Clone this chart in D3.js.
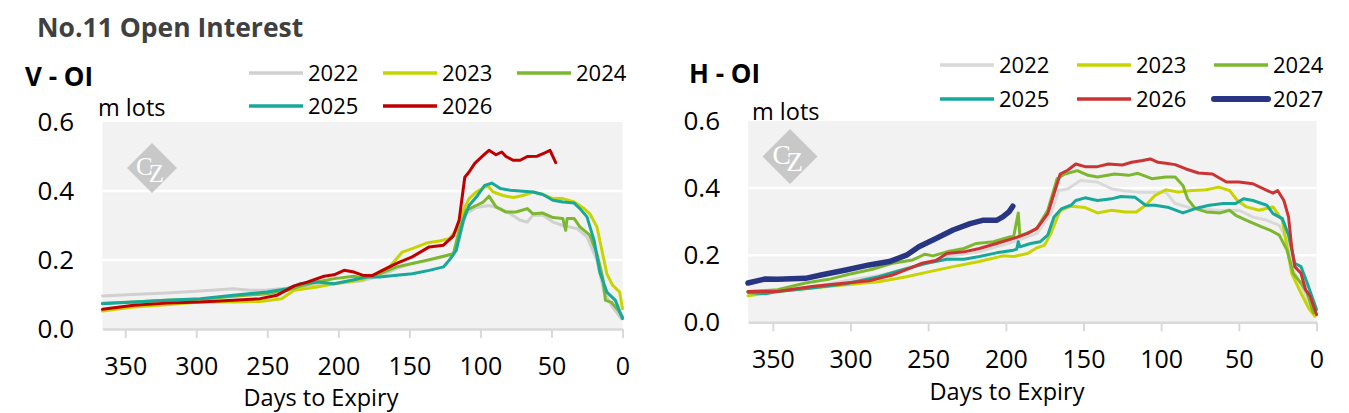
<!DOCTYPE html>
<html>
<head>
<meta charset="utf-8">
<script src="https://cdn.jsdelivr.net/npm/d3@7"></script>
<style>
  body { margin: 0; background: #fff; }
  svg { display: block; font-family: "Open Sans", "Noto Sans", sans-serif; }
</style>
</head>
<body>
<script>
// ---- data ----
const years = ["2022", "2023", "2024", "2025", "2026", "2027"];
const xTicks = [350, 300, 250, 200, 150, 100, 50, 0];
const yTicks = [0, 0.2, 0.4, 0.6];

// V contract, [days to expiry, m lots]
const v2022 = [[366,0.096],[345,0.1],[321,0.104],[297,0.11],[274,0.117],[262,0.112],[250,0.113],[227,0.122],[203,0.131],[183,0.14],[170,0.155],[159,0.175],[148,0.19],[136,0.199],[126,0.21],[119,0.218],[115,0.267],[110,0.334],[103,0.352],[94,0.358],[86,0.349],[79,0.334],[72,0.315],[67,0.31],[63,0.33],[56,0.33],[49,0.31],[42,0.3],[32,0.291],[25,0.267],[18,0.199],[13,0.107],[7,0.064],[1,0.03]];
const v2023 = [[366,0.052],[344,0.064],[321,0.07],[297,0.078],[274,0.078],[255,0.08],[240,0.088],[231,0.112],[215,0.122],[203,0.131],[183,0.143],[171,0.165],[164,0.18],[155,0.223],[148,0.233],[138,0.249],[129,0.255],[122,0.262],[117,0.286],[112,0.344],[108,0.378],[103,0.397],[95,0.416],[91,0.397],[84,0.387],[77,0.381],[70,0.387],[63,0.397],[56,0.39],[49,0.378],[42,0.378],[34,0.368],[27,0.349],[23,0.334],[18,0.296],[14,0.218],[11,0.16],[7,0.127],[2,0.107],[0,0.059]];
const v2024 = [[366,0.075],[344,0.078],[321,0.083],[297,0.086],[274,0.095],[250,0.102],[236,0.112],[227,0.124],[215,0.136],[203,0.146],[189,0.153],[183,0.148],[171,0.16],[159,0.18],[148,0.19],[136,0.201],[126,0.211],[119,0.218],[115,0.286],[110,0.344],[103,0.358],[98,0.368],[94,0.385],[89,0.354],[82,0.339],[75,0.339],[67,0.349],[63,0.334],[56,0.336],[49,0.323],[42,0.32],[40,0.286],[39,0.32],[34,0.32],[30,0.296],[23,0.272],[18,0.218],[14,0.151],[12,0.083],[8,0.078],[3,0.054],[0,0.035]];
const v2025 = [[366,0.073],[344,0.078],[321,0.083],[297,0.088],[274,0.098],[250,0.107],[236,0.117],[227,0.131],[215,0.136],[203,0.131],[189,0.143],[180,0.151],[171,0.151],[159,0.156],[148,0.16],[136,0.17],[126,0.18],[122,0.199],[117,0.228],[112,0.315],[108,0.358],[102,0.387],[97,0.416],[92,0.423],[86,0.407],[79,0.402],[70,0.399],[63,0.397],[56,0.39],[49,0.373],[42,0.368],[34,0.365],[30,0.349],[25,0.325],[20,0.257],[16,0.165],[11,0.107],[5,0.083],[0,0.03]];
const v2026 = [[366,0.057],[344,0.069],[321,0.075],[297,0.078],[274,0.083],[255,0.088],[243,0.098],[231,0.125],[222,0.136],[210,0.153],[203,0.157],[196,0.17],[189,0.165],[183,0.156],[176,0.155],[169,0.17],[159,0.19],[148,0.209],[136,0.238],[126,0.243],[119,0.27],[115,0.315],[111,0.44],[108,0.455],[104,0.48],[98,0.503],[94,0.518],[89,0.505],[85,0.513],[82,0.5],[77,0.489],[72,0.489],[67,0.5],[60,0.501],[56,0.508],[51,0.518],[47,0.482]];

// H contract
const h2022 = [[366,0.092],[347,0.095],[325,0.105],[303,0.124],[281,0.14],[260,0.166],[238,0.196],[217,0.21],[195,0.24],[180,0.265],[171,0.324],[166,0.393],[160,0.398],[152,0.423],[141,0.418],[132,0.398],[123,0.391],[115,0.388],[106,0.388],[97,0.388],[91,0.354],[82,0.342],[71,0.336],[62,0.333],[50,0.334],[41,0.314],[32,0.304],[24,0.289],[19,0.245],[15,0.156],[8,0.09],[2,0.03]];
const h2023 = [[366,0.079],[347,0.092],[325,0.102],[303,0.112],[282,0.121],[264,0.136],[249,0.151],[234,0.166],[217,0.181],[202,0.198],[195,0.196],[186,0.205],[180,0.222],[175,0.23],[171,0.265],[165,0.334],[158,0.346],[149,0.342],[141,0.326],[132,0.334],[123,0.329],[116,0.329],[110,0.349],[104,0.378],[97,0.395],[89,0.388],[80,0.393],[71,0.395],[63,0.403],[56,0.393],[51,0.363],[45,0.344],[37,0.334],[28,0.344],[22,0.304],[19,0.225],[16,0.146],[10,0.087],[5,0.042],[1,0.018]];
const h2024 = [[366,0.092],[347,0.097],[329,0.117],[314,0.128],[301,0.143],[286,0.158],[273,0.176],[260,0.186],[252,0.203],[247,0.198],[238,0.21],[227,0.22],[219,0.235],[208,0.24],[197,0.255],[195,0.255],[192,0.326],[191,0.257],[184,0.27],[180,0.28],[173,0.334],[167,0.428],[162,0.442],[154,0.452],[147,0.438],[141,0.433],[130,0.442],[121,0.438],[115,0.444],[106,0.428],[97,0.433],[91,0.433],[86,0.408],[83,0.368],[78,0.339],[71,0.329],[62,0.326],[56,0.334],[52,0.319],[45,0.304],[36,0.286],[30,0.275],[24,0.26],[19,0.215],[15,0.146],[10,0.117],[6,0.087],[2,0.028]];
const h2025 = [[366,0.089],[355,0.085],[347,0.092],[325,0.102],[303,0.115],[282,0.136],[267,0.156],[251,0.176],[238,0.188],[227,0.188],[217,0.196],[206,0.207],[195,0.215],[193,0.218],[192,0.24],[191,0.225],[184,0.235],[178,0.24],[173,0.26],[169,0.314],[164,0.339],[158,0.349],[155,0.363],[149,0.371],[141,0.363],[132,0.368],[126,0.375],[117,0.373],[110,0.349],[104,0.349],[95,0.342],[86,0.326],[78,0.339],[69,0.349],[60,0.354],[52,0.354],[47,0.368],[41,0.363],[32,0.349],[28,0.324],[22,0.309],[18,0.26],[14,0.176],[10,0.166],[6,0.117],[0,0.038]];
const h2026 = [[366,0.092],[347,0.092],[325,0.107],[303,0.117],[288,0.124],[273,0.141],[262,0.161],[254,0.176],[245,0.184],[238,0.205],[227,0.21],[217,0.22],[206,0.235],[195,0.25],[186,0.265],[180,0.28],[173,0.324],[169,0.383],[165,0.442],[160,0.454],[155,0.472],[149,0.464],[141,0.464],[134,0.472],[125,0.469],[119,0.477],[112,0.482],[107,0.487],[102,0.477],[97,0.474],[91,0.47],[84,0.457],[76,0.445],[67,0.442],[58,0.418],[50,0.418],[41,0.413],[32,0.393],[28,0.385],[25,0.393],[21,0.363],[18,0.314],[16,0.225],[14,0.166],[10,0.146],[7,0.097],[4,0.077],[0,0.023]];
const h2027 = [[366,0.117],[355,0.129],[347,0.128],[329,0.131],[319,0.141],[303,0.156],[288,0.171],[275,0.181],[264,0.2],[256,0.225],[245,0.25],[234,0.275],[223,0.294],[215,0.304],[206,0.304],[202,0.314],[198,0.329],[195.5,0.346]];

const W = 1349, H = 413;
const svg = d3.select("body").append("svg").attr("width", W).attr("height", H);
svg.append("rect").attr("width", W).attr("height", H).attr("fill", "#fff");

svg.append("text")
  .attr("x", 37).attr("y", 37)
  .attr("font-size", 26.5).attr("font-weight", 700).attr("fill", "#404040")
  .text("No.11 Open Interest");

function panel(p) {
  const x = d3.scaleLinear().domain([366, 0]).range([p.x0, p.x1]);
  const y = d3.scaleLinear().domain([0, 0.6]).range([p.y1, p.y0]);
  const g = svg.append("g");

  g.append("rect")
    .attr("x", p.x0).attr("y", p.y0)
    .attr("width", p.x1 - p.x0).attr("height", p.y1 - p.y0)
    .attr("fill", "#f2f2f2");

  g.selectAll(".grid").data(yTicks.filter(d => d > 0 && d < 0.6)).enter()
    .append("line")
      .attr("x1", p.x0).attr("x2", p.x1)
      .attr("y1", d => y(d)).attr("y2", d => y(d))
      .attr("stroke", "#fff").attr("stroke-width", 2.5);

  // CZ logo: one text, per-letter shifts
  const lg = g.append("g").attr("transform", `translate(${p.logo[0]},${p.logo[1]}) scale(${p.logo[2]})`);
  lg.append("path").attr("d", "M0,-25L25,0L0,25L-25,0Z").attr("fill", "#c8c8c8");
  lg.append("text").attr("x", -16).attr("y", 7).attr("dx", "0 -4").attr("dy", "0 6.5")
    .attr("fill", "#fff").attr("font-size", 25)
    .attr("font-family", "Liberation Serif, DejaVu Serif, serif")
    .text("CZ");

  // x axis
  const xa = g.append("g").attr("transform", `translate(0,${p.y1})`)
    .call(d3.axisBottom(x).tickValues(xTicks).tickSize(9).tickSizeOuter(0).tickPadding(19).tickFormat(d3.format("d")));
  xa.select(".domain").attr("stroke", "#d9d9d9").attr("stroke-width", 2.5);
  xa.selectAll(".tick line").attr("stroke", "#d9d9d9").attr("stroke-width", 2);
  xa.selectAll(".tick text").attr("font-size", 25).attr("fill", "#000")
    .attr("font-family", "Open Sans, sans-serif");

  // y axis labels
  const ya = g.append("g").attr("transform", `translate(${p.yLabelX},0)`)
    .call(d3.axisLeft(y).tickValues(yTicks).tickSize(0).tickPadding(0).tickFormat(d3.format(".1f")));
  ya.select(".domain").remove();
  ya.selectAll(".tick text").attr("font-size", 26).attr("fill", "#000")
    .attr("font-family", "Open Sans, sans-serif");

  g.append("text").attr("x", p.titleX).attr("y", p.titleY)
    .attr("text-anchor", "middle").attr("font-size", 23.5).text("Days to Expiry");
  g.append("text").attr("x", p.unitX).attr("y", p.unitY)
    .attr("font-size", 23.5).text("m lots");
  g.append("text").attr("x", p.labelX).attr("y", p.labelY)
    .attr("font-size", 26).attr("font-weight", 700).text(p.label);

  const line = d3.line().x(d => x(d[0])).y(d => y(d[1]));
  p.series.forEach(s => {
    g.append("path").datum(s.data)
      .attr("d", line)
      .attr("fill", "none")
      .attr("stroke", s.color)
      .attr("stroke-width", s.width)
      .attr("stroke-linejoin", "round")
      .attr("stroke-linecap", "round");
  });

  // legend
  p.series.forEach((s, i) => {
    const lx = p.legendX[i % 3], ly = p.legendY[Math.floor(i / 3)];
    g.append("line").attr("x1", lx).attr("x2", lx + 54).attr("y1", ly).attr("y2", ly)
      .attr("stroke", s.color).attr("stroke-width", s.width > 4 ? 6 : 3.5)
      .attr("stroke-linecap", s.width > 4 ? "round" : "butt");
    g.append("text").attr("x", lx + 59).attr("y", ly).attr("dy", "0.35em")
      .attr("font-size", 22).text(s.name);
  });
}

panel({
  x0: 102.5, x1: 622.5, y0: 122, y1: 329,
  yLabelX: 74, titleX: 321, titleY: 406,
  unitX: 98, unitY: 116, label: "V - OI", labelX: 25, labelY: 86,
  legendX: [249, 383, 517], legendY: [73, 106],
  logo: [152, 168, 1],
  series: [
    { name: years[0], data: v2022, color: "#d0d0d0", width: 3 },
    { name: years[1], data: v2023, color: "#c8d400", width: 3 },
    { name: years[2], data: v2024, color: "#7cb82f", width: 3 },
    { name: years[3], data: v2025, color: "#17a89a", width: 3 },
    { name: years[4], data: v2026, color: "#c00000", width: 3 }
  ]
});

panel({
  x0: 748, x1: 1316.5, y0: 121, y1: 322.3,
  yLabelX: 720, titleX: 1007, titleY: 400,
  unitX: 752, unitY: 120, label: "H - OI", labelX: 689, labelY: 83,
  legendX: [940, 1077, 1214], legendY: [65, 99],
  logo: [790, 156.5, 1.1],
  series: [
    { name: years[0], data: h2022, color: "#d9d9d9", width: 3 },
    { name: years[1], data: h2023, color: "#c8d400", width: 3 },
    { name: years[2], data: h2024, color: "#7cb82f", width: 3 },
    { name: years[3], data: h2025, color: "#17a89a", width: 3 },
    { name: years[4], data: h2026, color: "#cc3333", width: 3 },
    { name: years[5], data: h2027, color: "#283583", width: 5.5 }
  ]
});
</script>
</body>
</html>
